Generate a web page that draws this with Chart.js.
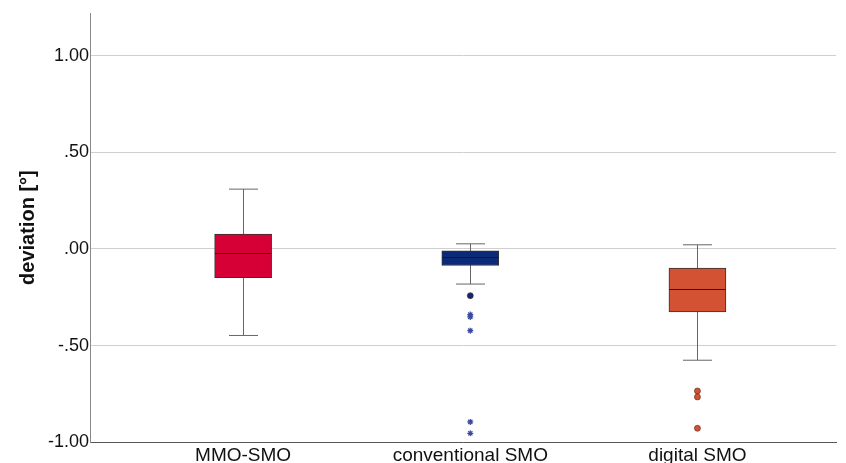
<!DOCTYPE html>
<html>
<head>
<meta charset="utf-8">
<script src="https://cdn.jsdelivr.net/npm/chart.js@4"></script>
<style>
    html, body { margin: 0; padding: 0; background: #fff; }
    #wrap { width: 846px; height: 463px; }
</style>
</head>
<body>
<div id="wrap"><canvas id="boxChart"></canvas></div>
<script>
// groups and box statistics (deviation in degrees)
const groups = ['MMO-SMO', 'conventional SMO', 'digital SMO'];
const whiskerLow = [-0.448, -0.182, -0.576];
const quartile1 = [-0.149, -0.086, -0.326];
const medians = [-0.021, -0.040, -0.208];
const quartile3 = [0.077, -0.010, -0.100];
const whiskerHigh = [0.309, 0.026, 0.021];

// outliers (circles) and extremes (stars)
const outlierGroup = [2, 3, 3, 3];
const outlierValues = [-0.242, -0.735, -0.766, -0.928];
const extremeGroup = [2, 2, 2, 2, 2];
const extremeValues = [-0.340, -0.352, -0.423, -0.895, -0.954];

const yTicks = [-1.0, -0.5, 0.0, 0.5, 1.0];

const boxColors = ['#d70036', '#0b2a78', '#d35233'];
const outlierColors = ['#0b2a78', '#d35233', '#d35233', '#d35233'];

const fmt = v => v.toFixed(2).replace(/^(-?)0\./, '$1.');

// whiskers under the boxes, median on top
const boxPlotLines = {
    id: 'boxPlotLines',
    beforeDatasetsDraw(chart) {
        const { ctx, scales: { x, y } } = chart;
        ctx.save();
        ctx.strokeStyle = '#666';
        ctx.lineWidth = 1;
        groups.forEach((g, i) => {
            const cx = Math.round(x.getPixelForValue(i + 1)) + 0.5;
            const cap = 14.5;
            const lo = y.getPixelForValue(whiskerLow[i]);
            const hi = y.getPixelForValue(whiskerHigh[i]);
            ctx.beginPath();
            ctx.moveTo(cx, lo);
            ctx.lineTo(cx, hi);
            ctx.moveTo(cx - cap, lo);
            ctx.lineTo(cx + cap, lo);
            ctx.moveTo(cx - cap, hi);
            ctx.lineTo(cx + cap, hi);
            ctx.stroke();
        });
        ctx.restore();
    },
    afterDatasetsDraw(chart) {
        const { ctx, scales: { x, y } } = chart;
        ctx.save();
        ctx.strokeStyle = '#3a0a0a';
        ctx.lineWidth = 1;
        groups.forEach((g, i) => {
            const cx = x.getPixelForValue(i + 1);
            const m = Math.round(y.getPixelForValue(medians[i])) + 0.5;
            ctx.beginPath();
            ctx.moveTo(cx - 28, m);
            ctx.lineTo(cx + 28, m);
            ctx.stroke();
        });
        ctx.restore();
    }
};

const ctx = document.getElementById('boxChart').getContext('2d');

new Chart(ctx, {
    data: {
        datasets: [
            {
                type: 'bar',
                data: groups.map((g, i) => ({ x: i + 1, y: [quartile1[i], quartile3[i]] })),
                backgroundColor: boxColors,
                borderColor: '#333',
                borderWidth: 1,
                borderSkipped: false,
                barThickness: 57,
                order: 2
            },
            {
                type: 'scatter',
                data: outlierValues.map((v, i) => ({ x: outlierGroup[i], y: v })),
                pointStyle: 'circle',
                pointRadius: 3,
                backgroundColor: outlierColors,
                borderColor: '#5a2010',
                borderWidth: 0.6,
                order: 1
            },
            {
                type: 'scatter',
                data: extremeValues.map((v, i) => ({ x: extremeGroup[i], y: v })),
                pointStyle: 'star',
                pointRadius: 3,
                borderColor: '#3b4aa0',
                borderWidth: 1.2,
                order: 1
            }
        ]
    },
    options: {
        responsive: true,
        maintainAspectRatio: false,
        animation: false,
        layout: { padding: { top: 13, right: 10, left: 16, bottom: -6 } },
        plugins: {
            legend: { display: false },
            tooltip: { enabled: false }
        },
        scales: {
            x: {
                type: 'linear',
                offset: false,
                min: 0.326,
                max: 3.61,
                afterBuildTicks: s => { s.ticks = groups.map((g, i) => ({ value: i + 1 })); },
                ticks: {
                    callback: v => groups[v - 1],
                    color: '#111',
                    font: { family: 'Liberation Sans, Arial, sans-serif', size: 19 },
                    padding: 2,
                    maxRotation: 0
                },
                grid: { display: false, drawTicks: false, offset: false },
                border: { color: '#555', width: 1 }
            },
            y: {
                min: -1.0,
                max: 1.22,
                afterBuildTicks: s => { s.ticks = yTicks.map(v => ({ value: v })); },
                ticks: {
                    callback: v => fmt(v),
                    color: '#111',
                    font: { family: 'Liberation Sans, Arial, sans-serif', size: 18 },
                    padding: 1
                },
                grid: { color: '#cfcfcf', drawTicks: false },
                border: { color: '#888', width: 1 },
                title: {
                    display: true,
                    text: 'deviation [°]',
                    color: '#111',
                    font: { family: 'Liberation Sans, Arial, sans-serif', size: 20, weight: 'bold' },
                    padding: { top: 0, bottom: 7 }
                }
            }
        }
    },
    plugins: [boxPlotLines]
});
</script>
</body>
</html>
